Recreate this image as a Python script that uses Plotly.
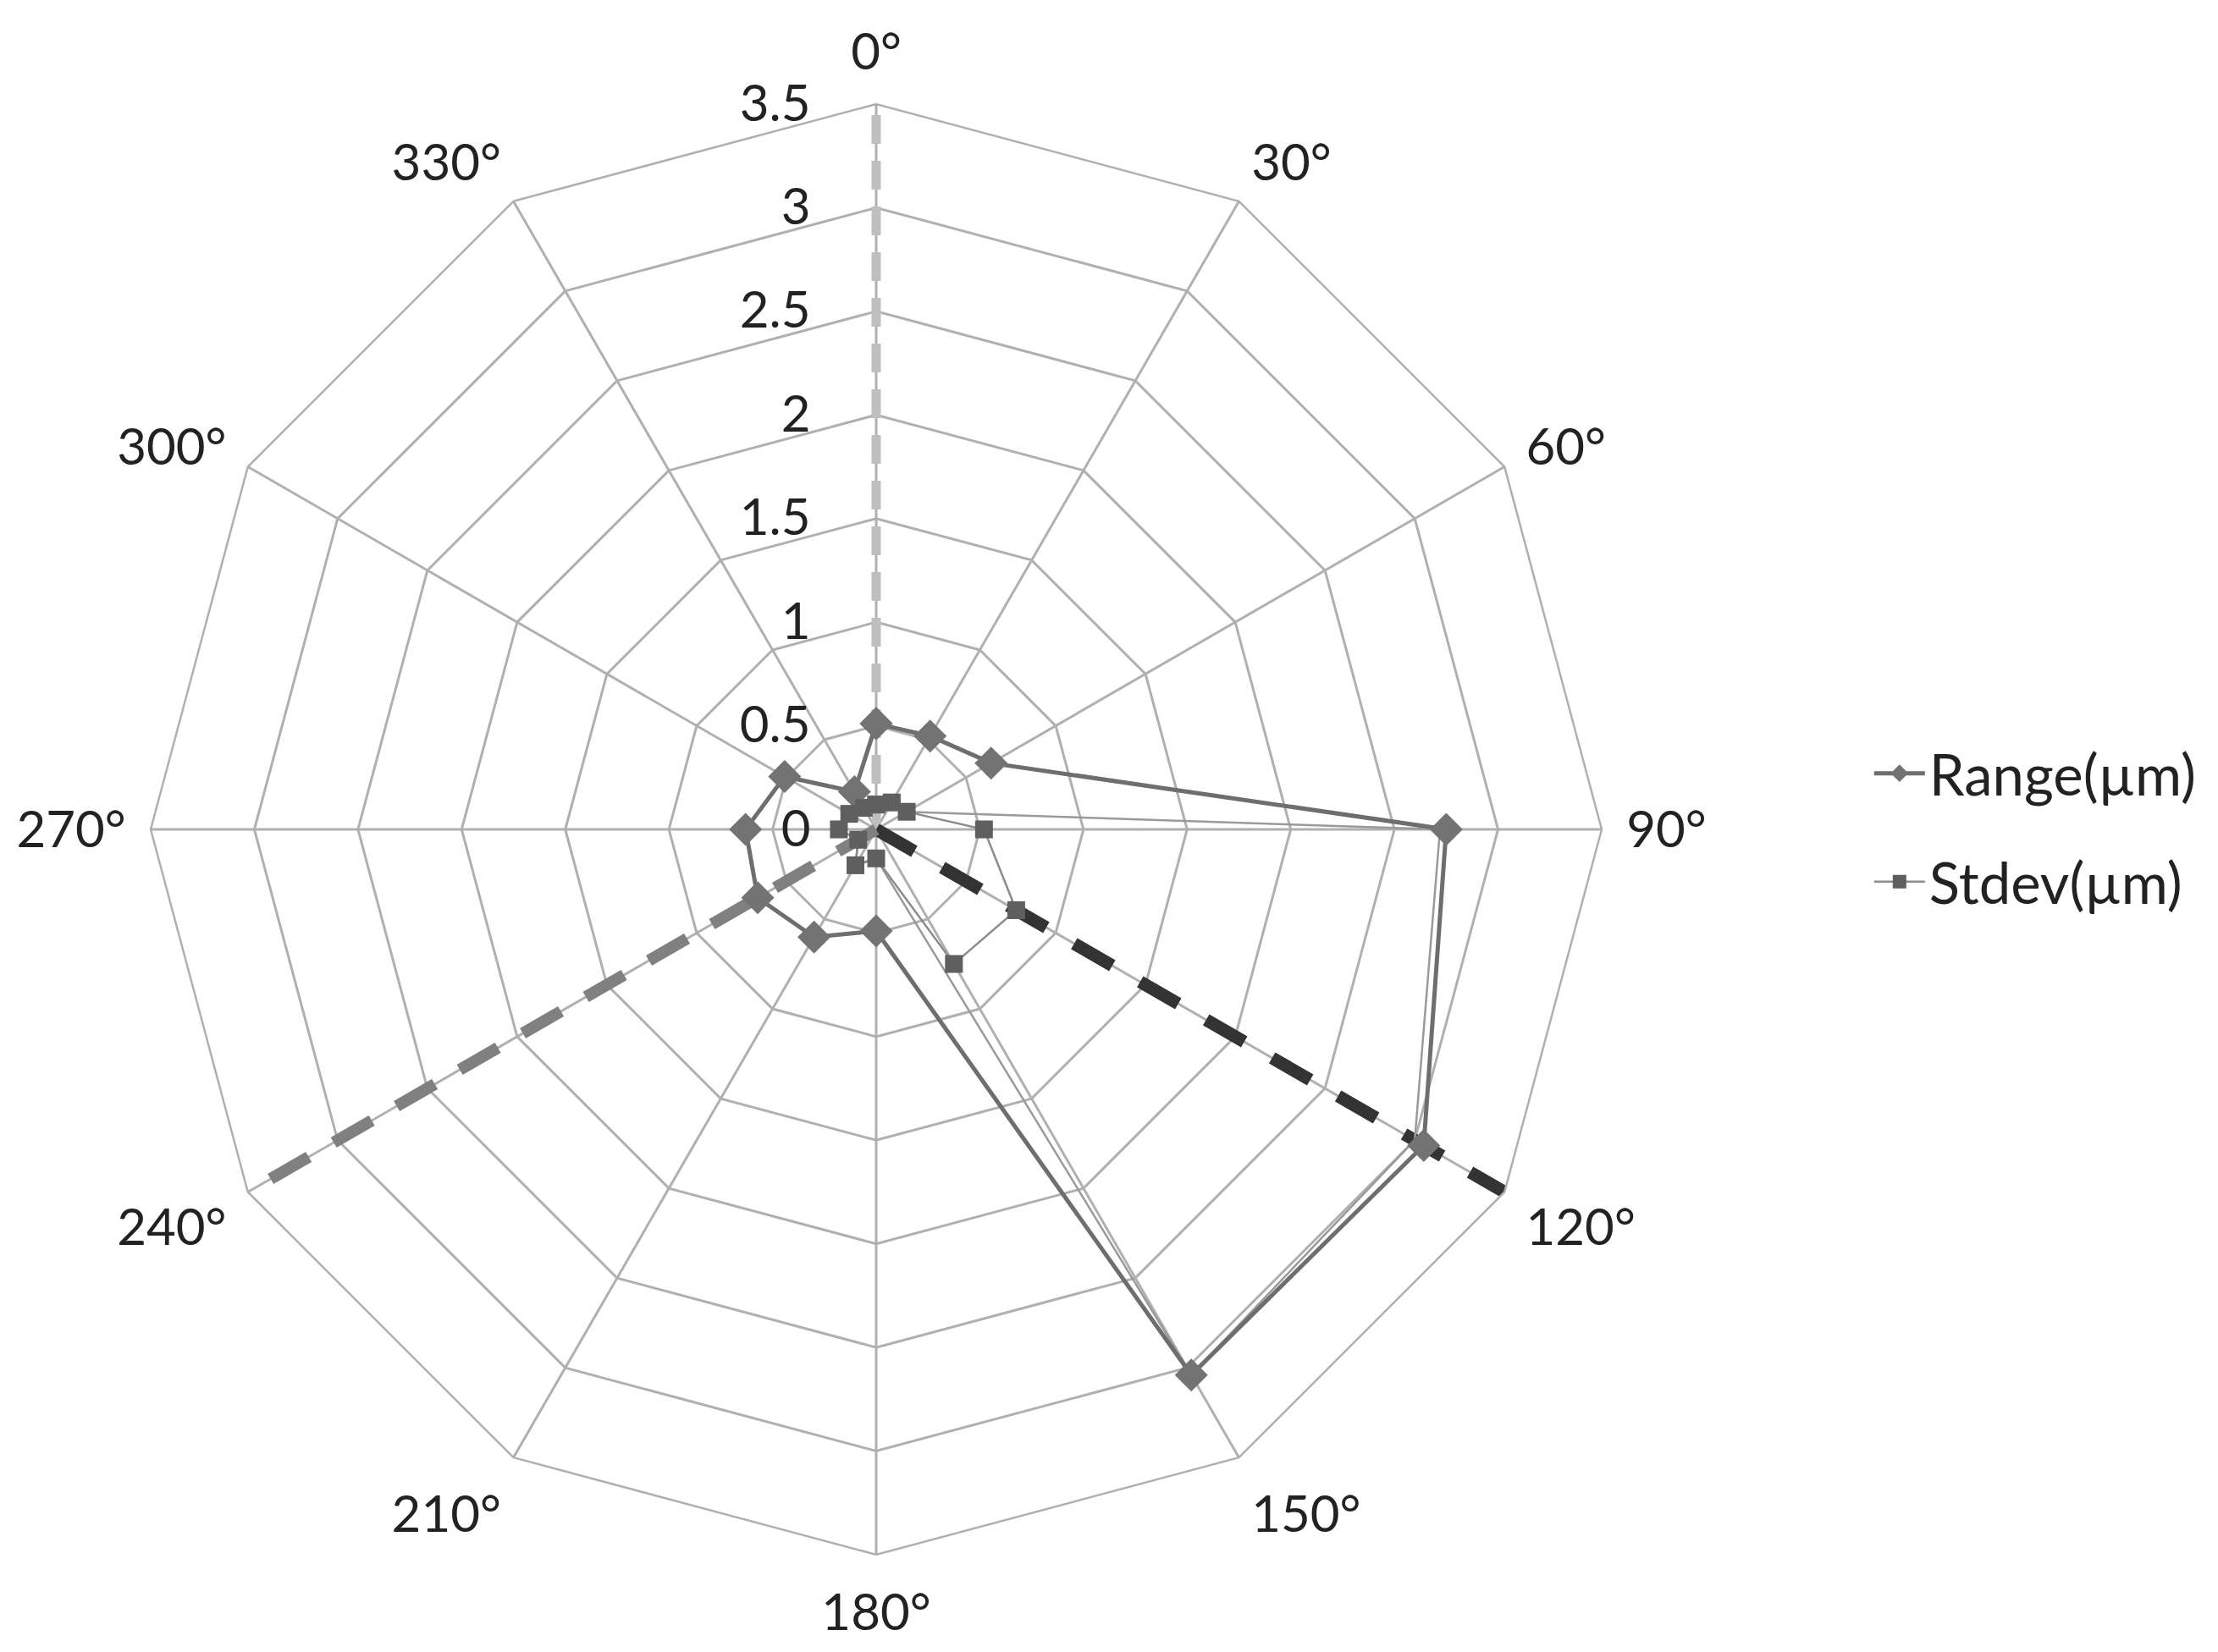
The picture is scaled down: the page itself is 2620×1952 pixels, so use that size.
import plotly.graph_objects as go

# categories (measurement angle) and the two legend series
angles = ["0°", "30°", "60°", "90°", "120°", "150°", "180°", "210°", "240°", "270°", "300°", "330°"]
range_um = [0.51, 0.52, 0.64, 2.75, 3.05, 3.04, 0.49, 0.60, 0.66, 0.63, 0.51, 0.21]
stdev_um = [0.12, 0.15, 0.17, 0.52, 0.78, 0.75, 0.14, 0.20, 0.10, 0.18, 0.15, 0.12]
# thin unlabelled series that runs beside Range on the 90-150 side
extra_um = [0.12, 0.15, 0.17, 2.72, 3.00, 3.04, 0.14, 0.20, 0.10, 0.18, 0.15, 0.12]

# dashed direction lines from the centre
dir_angles = ["0°", "120°", "240°"]
dir_r = [3.5, 3.5, 3.5]

r_ticks = [0, 0.5, 1, 1.5, 2, 2.5, 3, 3.5]
r_ticklabels = ["0", "0.5", "1", "1.5", "2", "2.5", "3", "3.5"]

FONT = "Lato"
GRID = "#b0b0b0"
TXT = "#222222"


def closed(vals):
    return list(vals) + [vals[0]]


fig = go.Figure()

# dashed direction lines (drawn first so the series sit on top)
dir_styles = [("#bfbfbf", 11, "34px,20px"), ("#333333", 15, "52px,38px"), ("#808080", 14, "52px,34px")]
for ang, rr, (col, w, dsh) in zip(dir_angles, dir_r, dir_styles):
    fig.add_trace(go.Scatterpolar(r=[0, rr], theta=[ang, ang], mode="lines",
                                  line=dict(color=col, width=w, dash=dsh),
                                  showlegend=False, hoverinfo="skip"))

fig.add_trace(go.Scatterpolar(r=closed(extra_um), theta=closed(angles), mode="lines",
                              line=dict(color="#9a9a9a", width=2.5),
                              showlegend=False, hoverinfo="skip"))

fig.add_trace(go.Scatterpolar(r=closed(range_um), theta=closed(angles), mode="lines+markers",
                              name="Range(µm)", legendgroup="a",
                              line=dict(color="#6e6e6e", width=5),
                              marker=dict(symbol="diamond", size=30, color="#737373")))

fig.add_trace(go.Scatterpolar(r=closed(stdev_um), theta=closed(angles), mode="lines+markers",
                              name="Stdev(µm)", legendgroup="b",
                              line=dict(color="#8c8c8c", width=2.5),
                              marker=dict(symbol="square", size=21, color="#5f5f5f")))

fig.update_layout(
    width=2620, height=1952,
    paper_bgcolor="white", plot_bgcolor="white",
    margin=dict(l=0, r=0, t=0, b=0),
    font=dict(family=FONT, size=60, color=TXT),
    polar=dict(
        domain=dict(x=[170 / 2620, 1884 / 2620], y=[1 - 1829 / 1952, 1 - 115 / 1952]),
        bgcolor="white",
        gridshape="linear",
        angularaxis=dict(type="category", categoryarray=angles, rotation=90, direction="clockwise",
                         showline=True, linecolor=GRID, linewidth=2.5,
                         gridcolor=GRID, gridwidth=2.5,
                         ticks="outside", ticklen=16, tickcolor="rgba(0,0,0,0)",
                         tickfont=dict(family=FONT, size=60, color=TXT)),
        radialaxis=dict(range=[0, 3.5], tickvals=r_ticks, ticktext=r_ticklabels,
                        angle=90, tickangle=90, side="counterclockwise", showline=False,
                        gridcolor=GRID, gridwidth=2.5,
                        ticks="outside", ticklen=56, tickcolor="rgba(0,0,0,0)",
                        tickfont=dict(family=FONT, size=60, color=TXT)),
    ),
    legend=dict(x=0.840, y=0.503, xanchor="left", yanchor="middle",
                font=dict(family=FONT, size=67, color=TXT),
                traceorder="grouped", tracegroupgap=38, itemwidth=60),
)

fig.write_html("out.html")
